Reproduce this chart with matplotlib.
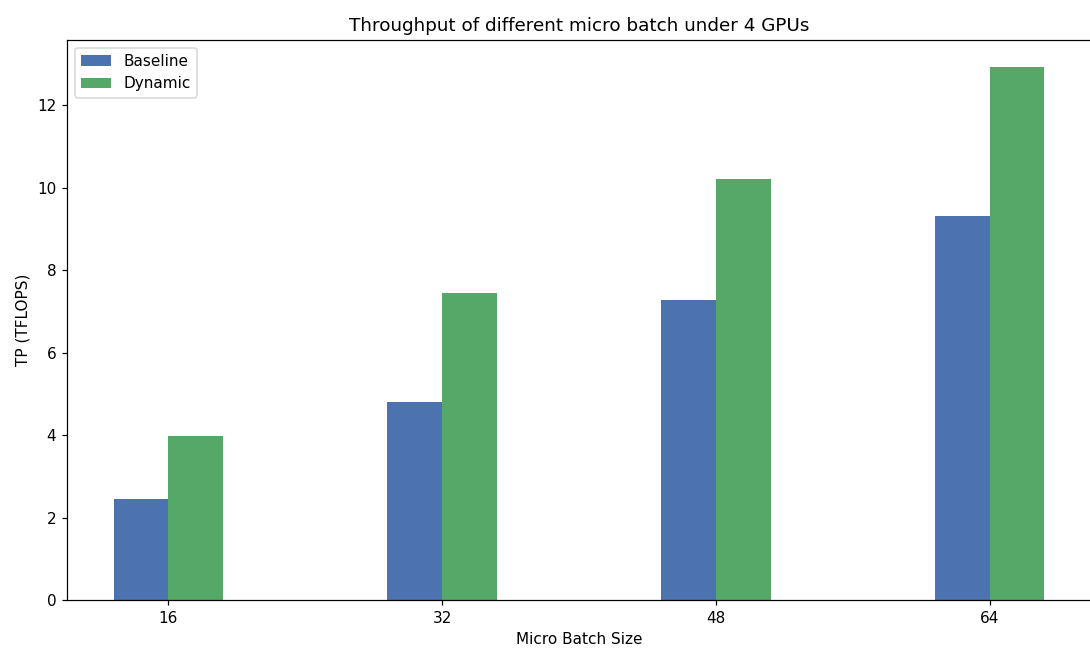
import matplotlib
matplotlib.use("Agg")
import matplotlib.pyplot as plt
import numpy as np

# micro batch sizes and throughput (TFLOPS)
batch_sizes = [16, 32, 48, 64]
baseline_tp = [2.44, 4.80, 7.28, 9.31]
dynamic_tp = [3.98, 7.44, 10.21, 12.93]

dpi = 110
fig = plt.figure(figsize=(1090 / dpi, 653 / dpi), dpi=dpi)
ax = fig.add_axes([67 / 1090, 1 - 600 / 653, 1024 / 1090, 560 / 653])

x = np.arange(len(batch_sizes))
width = 0.2
ax.bar(x - width / 2, baseline_tp, width, color="#4C72B0", label="Baseline")
ax.bar(x + width / 2, dynamic_tp, width, color="#55A868", label="Dynamic")

ax.set_xticks(x)
ax.set_xticklabels([str(b) for b in batch_sizes])
ax.set_xlabel("Micro Batch Size")
ax.set_ylabel("TP (TFLOPS)")
ax.set_title("Throughput of different micro batch under 4 GPUs")
ax.legend(loc="upper left")

fig.savefig("out.png", dpi=dpi)
